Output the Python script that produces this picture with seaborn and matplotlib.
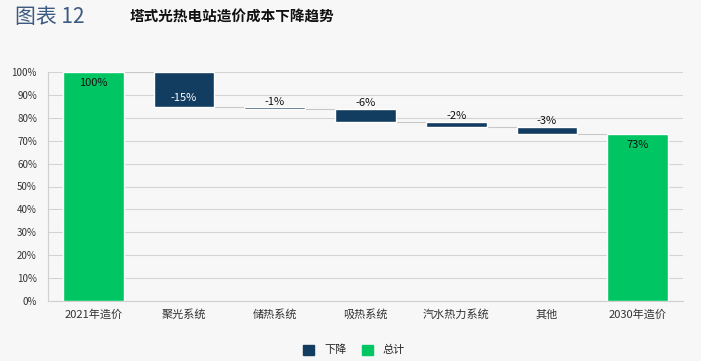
import numpy as np
import pandas as pd
import matplotlib.pyplot as plt
import seaborn as sns
from matplotlib.patches import Patch

# --- data ---
categories = ["2021年造价", "聚光系统", "储热系统", "吸热系统", "汽水热力系统", "其他", "2030年造价"]
start_cost = 1.00
declines = [0.155, 0.007, 0.058, 0.018, 0.032]
decline_labels = ["-15%", "-1%", "-6%", "-2%", "-3%"]
end_cost = 0.73
total_labels = ["100%", "73%"]
y_ticks = np.arange(0, 1.01, 0.1)

BG = "#f7f7f7"
GREEN = "#00c563"
NAVY = "#133c61"
GRID = "#d4d4d4"
BAR_W = 0.67

sns.set_theme(style="whitegrid")
plt.rcParams["font.family"] = ["Noto Sans CJK SC", "DejaVu Sans"]

# waterfall levels
levels = [start_cost]
for d in declines:
    levels.append(levels[-1] - d)
dec_df = pd.DataFrame({
    "cat": categories[1:-1],
    "height": declines,
    "bottom": [levels[i + 1] for i in range(len(declines))],
})
tot_df = pd.DataFrame({"cat": [categories[0], categories[-1]], "value": [start_cost, end_cost]})

fig = plt.figure(figsize=(7.01, 3.61), dpi=100, facecolor=BG)
ax = fig.add_axes([48 / 701, 60 / 361, 635 / 701, 229 / 361])
ax.set_facecolor(BG)

sns.barplot(data=tot_df, x="cat", y="value", order=categories, color=GREEN,
            width=BAR_W, saturation=1, ax=ax, zorder=3)
sns.barplot(data=dec_df, x="cat", y="height", order=categories, color=NAVY,
            width=BAR_W, saturation=1, bottom=dec_df["bottom"].tolist(), ax=ax, zorder=3)

# connector lines between bars
for i in range(len(levels)):
    ax.hlines(levels[i], i + BAR_W / 2, i + 1 - BAR_W / 2, color="#c8c8c8", lw=0.8, zorder=2)

# labels
ax.text(0, start_cost - 0.025, total_labels[0], ha="center", va="top", fontsize=8, color="#111111", zorder=4)
ax.text(len(categories) - 1, end_cost - 0.025, total_labels[1], ha="center", va="top", fontsize=8, color="#111111", zorder=4)
for i, lab in enumerate(decline_labels):
    top = levels[i]
    bot = levels[i + 1]
    if i == 0:
        ax.text(i + 1, bot + 0.04, lab, ha="center", va="center", fontsize=8, color="white", zorder=4)
    else:
        ax.text(i + 1, top + 0.004, lab, ha="center", va="bottom", fontsize=8, color="#111111", zorder=4)

ax.set_ylim(0, 1.0)
ax.set_xlim(-0.5, len(categories) - 0.5)
ax.set_yticks(y_ticks)
ax.set_yticklabels([f"{int(round(t * 100))}%" for t in y_ticks], fontsize=7, color="#333333")
ax.tick_params(axis="x", labelsize=8, colors="#333333", length=0, pad=6)
ax.tick_params(axis="y", length=0, pad=8)
ax.set_xlabel("")
ax.set_ylabel("")
ax.grid(axis="y", color=GRID, lw=0.8)
ax.grid(axis="x", visible=False)
ax.set_axisbelow(True)
for s in ["top", "right"]:
    ax.spines[s].set_visible(False)
for s in ["left", "bottom"]:
    ax.spines[s].set_color("#d0d0d0")
    ax.spines[s].set_linewidth(0.8)

handles = [Patch(color=NAVY, label="下降"), Patch(color=GREEN, label="总计")]
fig.legend(handles=handles, loc="center", bbox_to_anchor=(0.505, 11 / 361),
           ncol=2, frameon=False, fontsize=8, handlelength=1.0, handleheight=1.0,
           columnspacing=1.4, handletextpad=0.9)

fig.text(15 / 701, 1 - 17 / 361, "图表 12", fontsize=15, color="#3d5a80", va="center", ha="left")
fig.text(130 / 701, 1 - 17 / 361, "塔式光热电站造价成本下降趋势", fontsize=10.5, fontweight="bold",
         color="#111111", va="center", ha="left")

fig.savefig("out.png", dpi=100, facecolor=BG)
